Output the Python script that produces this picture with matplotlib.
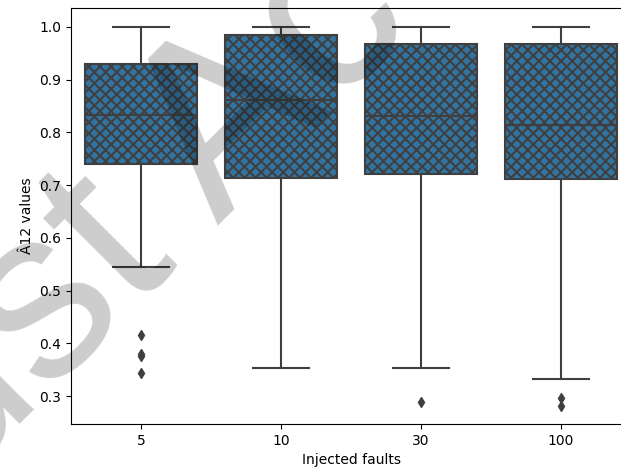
import matplotlib
matplotlib.use("Agg")
import matplotlib.pyplot as plt

# values
groups = ["5", "10", "30", "100"]
q1 = [0.741, 0.714, 0.721, 0.712]
med = [0.833, 0.861, 0.831, 0.815]
q3 = [0.929, 0.985, 0.967, 0.967]
whislo = [0.545, 0.354, 0.353, 0.332]
whishi = [1.0, 1.0, 1.0, 1.0]
fliers = [[0.416, 0.380, 0.376, 0.344], [], [0.288], [0.297, 0.281]]

stats = []
for i, g in enumerate(groups):
    stats.append(dict(label=g, q1=q1[i], med=med[i], q3=q3[i],
                      whislo=whislo[i], whishi=whishi[i], fliers=fliers[i]))

plt.rcParams["hatch.linewidth"] = 1.5

fig = plt.figure(figsize=(6.21, 4.74), dpi=100)
ax = fig.add_axes([71/621, 50/474, 560/621, 416/474])

gray = "#3f3f3f"
ax.bxp(stats, positions=range(len(groups)), widths=0.8, patch_artist=True,
       boxprops=dict(facecolor="#3274a1", edgecolor=gray, linewidth=1.5, hatch="xxx"),
       medianprops=dict(color=gray, linewidth=1.5),
       whiskerprops=dict(color=gray, linewidth=1.5),
       capprops=dict(color=gray, linewidth=1.5),
       flierprops=dict(marker="d", markerfacecolor=gray, markeredgecolor=gray,
                       markersize=5, linestyle="none"))

ax.set_xlim(-0.5, 3.5)
ax.set_ylim(0.247, 1.036)
ax.set_yticks([0.3, 0.4, 0.5, 0.6, 0.7, 0.8, 0.9, 1.0])
ax.set_xlabel("Injected faults")
ax.set_ylabel("Â12 values")
ax.spines["right"].set_visible(False)

# watermark
fig.text(0.572, 1.0, "Just Accepted", fontsize=175, family="Liberation Sans",
         color="black", alpha=0.2, rotation=45, ha="center", va="center",
         rotation_mode="anchor")

fig.savefig("out.png", dpi=100)
